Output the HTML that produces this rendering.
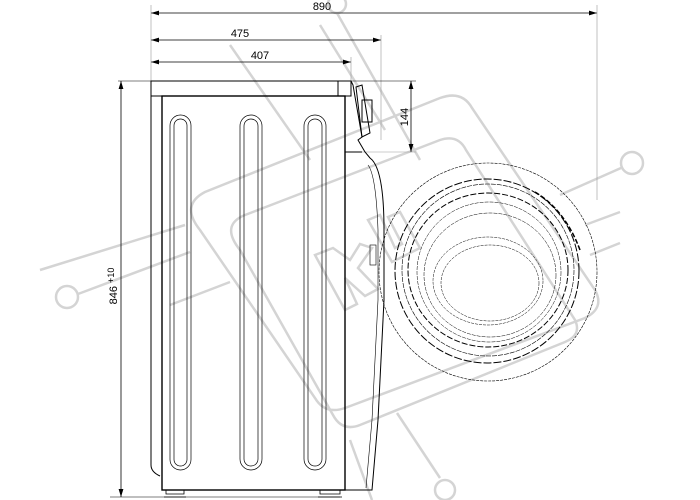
<!DOCTYPE html>
<html><head><style>body{margin:0;background:#fff}svg{display:block}</style></head><body>
<svg width="700" height="500" viewBox="0 0 700 500" xmlns="http://www.w3.org/2000/svg" font-family="Liberation Sans, sans-serif">
<defs><marker id="a" viewBox="0 0 10 6" refX="10" refY="3" markerWidth="10" markerHeight="6" orient="auto-start-reverse"><path d="M0,0L10,3L0,6z" fill="#000"/></marker></defs>
<!-- watermark -->
<g fill="none" stroke="#d4d4d4" stroke-width="2.5">
<circle cx="67" cy="297" r="11"/><line x1="78" y1="294" x2="190" y2="252"/><line x1="40" y1="270" x2="185" y2="225"/><line x1="170" y1="305" x2="230" y2="282"/>
<circle cx="632" cy="163" r="11"/><line x1="621" y1="168" x2="560" y2="195"/><line x1="620" y1="212" x2="585" y2="225"/><line x1="620" y1="243" x2="590" y2="255"/>
<path d="M200,230 Q180,205 205,192 L440,98 Q462,90 472,108 L595,290 Q605,308 585,318 L345,408 Q325,415 315,398 Z"/>
<path d="M240,250 Q220,225 245,215 L440,140 Q458,134 466,150 L575,320 Q582,335 565,342 L360,425 Q342,432 333,415 Z"/>
<path d="M315,255 L345,310 L357,304 L345,278 L365,296 L378,289 L358,268 L372,248 L360,244 L350,260 L333,248 Z"/>
<path d="M368,220 L392,262 L420,248 L400,212 L388,217 L402,244 L395,248 L380,215 Z"/>
<line x1="230" y1="45" x2="310" y2="160"/><line x1="320" y1="25" x2="385" y2="130"/><line x1="337" y1="13" x2="420" y2="160"/>
<circle cx="337" cy="4" r="9"/>
<line x1="350" y1="440" x2="372" y2="500"/><line x1="397" y1="413" x2="440" y2="478"/><circle cx="445" cy="490" r="10"/>
</g>
<!-- dimensions -->
<g stroke="#000" stroke-width="0.8" fill="none">
<line x1="151" y1="13" x2="597" y2="13" marker-start="url(#a)" marker-end="url(#a)"/>
<line x1="151" y1="40" x2="381" y2="40" marker-start="url(#a)" marker-end="url(#a)"/>
<line x1="151" y1="62" x2="351" y2="62" marker-start="url(#a)" marker-end="url(#a)"/>
<line x1="121" y1="81" x2="121" y2="497" marker-start="url(#a)" marker-end="url(#a)"/>
<line x1="411" y1="81" x2="411" y2="152" marker-start="url(#a)" marker-end="url(#a)"/>
</g>
<g stroke="#999" stroke-width="0.6">
<line x1="151" y1="5" x2="151" y2="81"/><line x1="597" y1="5" x2="597" y2="200"/>
<line x1="381" y1="35" x2="381" y2="140"/><line x1="351" y1="57" x2="351" y2="81"/>
<line x1="118" y1="81" x2="416" y2="81" stroke="#000"/>
<line x1="345" y1="152" x2="416" y2="152"/><line x1="110" y1="497" x2="340" y2="497" stroke="#000"/>
</g>
<g font-size="11" fill="#000" text-anchor="middle">
<text x="322" y="10">890</text><text x="240" y="37">475</text><text x="260" y="59">407</text>
<text x="408" y="117" transform="rotate(-90 408 117)">144</text>
<text x="117" y="286" transform="rotate(-90 117 286)">846 <tspan font-size="9" dy="-3">+10</tspan></text>
</g>
<!-- body -->
<g stroke="#000" stroke-width="1" fill="none">
<rect x="151" y="81" width="200" height="15"/>
<line x1="338" y1="81" x2="338" y2="96"/>
<path d="M151,96 L151,465 Q151,472 160,476"/>
<rect x="162" y="96" width="183" height="394" stroke-width="1.4"/>
<path d="M351,81 L353,85 L362,137 L358,140 L365,152 L370,158 Q384,168 384,230 L384,300 L378,420 L372,490 L345,490"/>
<path d="M356,87 L362,85 L370,133 L362,137 Z"/>
<rect x="362" y="100" width="10" height="22"/>
<line x1="345" y1="152" x2="362" y2="152"/>
<path d="M368,165 Q376,175 378,230 L378,300 L372,420 L366,488" stroke-width="0.6"/>
<rect x="370" y="245" width="6" height="20" stroke-width="0.6"/>
<g stroke-width="0.7">
<rect x="170" y="115" width="21" height="355" rx="10.5"/><rect x="174" y="119" width="13" height="347" rx="6.5"/>
<rect x="240" y="115" width="22" height="355" rx="11"/><rect x="244" y="119" width="14" height="347" rx="7"/>
<rect x="304" y="115" width="22" height="355" rx="11"/><rect x="308" y="119" width="14" height="347" rx="7"/>
</g>
<path d="M166,490 L166,494 L184,494 L184,490 M164,497 L186,497" stroke-width="0.8"/>
<path d="M320,490 L320,494 L340,494 L340,490 M318,497 L342,497" stroke-width="0.8"/>
</g>
<!-- door -->
<g fill="none" stroke="#000">
<circle cx="488" cy="272" r="109" stroke-width="0.6" stroke-dasharray="3 1"/>
<circle cx="487" cy="271" r="92" stroke-width="1" stroke-dasharray="8 2"/>
<circle cx="488" cy="270" r="86" stroke-width="0.6" stroke-dasharray="5 1"/>
<ellipse cx="488" cy="270" rx="80" ry="77" stroke-width="1" stroke-dasharray="6 2"/>
<ellipse cx="489" cy="272" rx="72" ry="70" stroke-width="0.5" stroke-dasharray="4 1"/>
<ellipse cx="490" cy="275" rx="66" ry="62" stroke-width="0.5" stroke-dasharray="4 1"/>
<ellipse cx="488" cy="281" rx="55" ry="44" stroke-width="0.5" stroke-dasharray="3 1"/>
<ellipse cx="490" cy="283" rx="49" ry="38" stroke-width="0.5" stroke-dasharray="3 1"/>
<path d="M535,192 Q565,210 580,250" stroke-width="1.5" stroke-dasharray="5 2"/>
</g>
</svg>
</body></html>
